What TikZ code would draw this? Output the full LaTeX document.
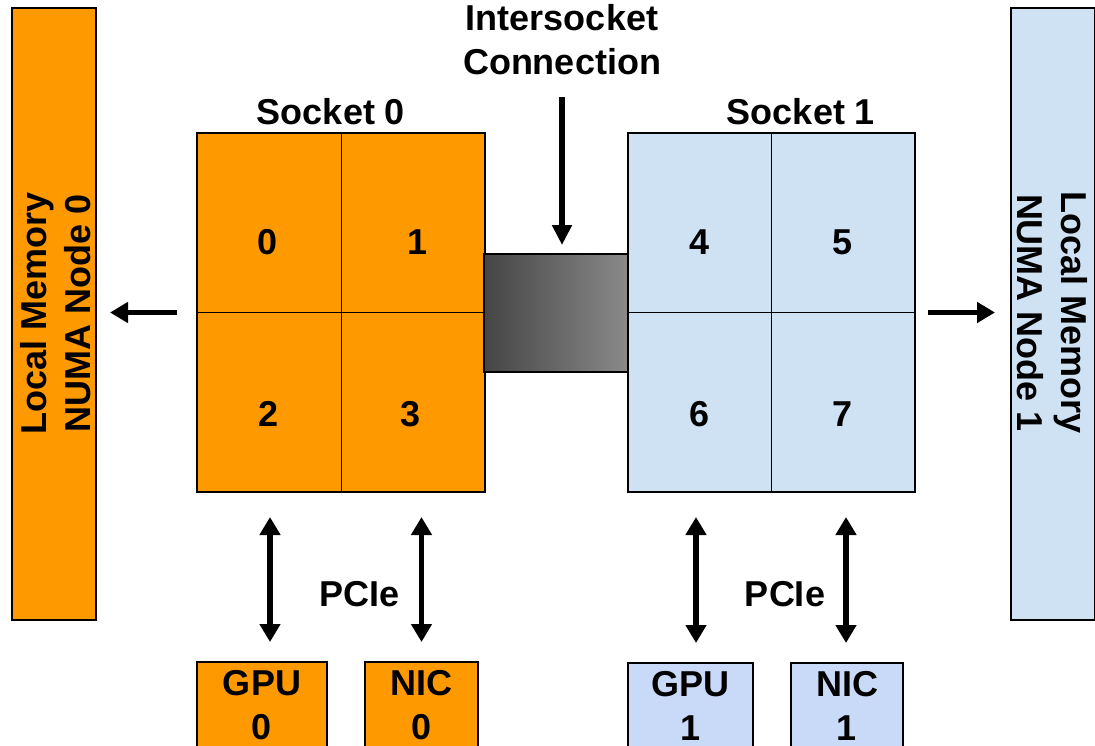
\documentclass[tikz,border=0pt]{standalone}
\usepackage{fontspec}
\setmainfont{Liberation Sans}
\usetikzlibrary{arrows.meta}
\definecolor{numaorange}{HTML}{FF9900}
\definecolor{socketblue}{HTML}{CFE2F3}
\definecolor{devblue}{HTML}{C9DAF8}
\tikzset{
  box/.style={draw=black, line width=1.3pt, inner sep=0pt, outer sep=0pt},
  divider/.style={draw=black, line width=1pt},
  txt/.style={inner sep=0pt, outer sep=0pt, align=center},
  onearrow/.style={line width=5.5pt, -{Triangle[width=20pt,length=18pt]}},
  twoarrow/.style={line width=5.5pt, {Triangle[width=20pt,length=18pt]}-{Triangle[width=20pt,length=18pt]}},
  downarrow/.style={line width=5.5pt, -{Triangle[width=19pt,length=20pt]}},
}
\begin{document}
\begin{tikzpicture}[x=1pt, y=-1pt, font=\fontsize{36}{44}\selectfont\bfseries]
\clip (0,0) rectangle (1095,745);
\fill[white] (0,0) rectangle (1095,745);

% local memories
\node[box, fill=numaorange, minimum width=84pt, minimum height=612pt] (mem0) at (54,314) {};
\node[box, fill=socketblue, minimum width=84pt, minimum height=612pt] (mem1) at (1053,314) {};
\node[txt, rotate=90] (mem0text) at (56,313) {Local Memory\\NUMA Node 0};
\node[txt, rotate=-90] (mem1text) at (1052,313) {Local Memory\\NUMA Node 1};

% sockets
\node[box, fill=numaorange, minimum width=288pt, minimum height=359pt] (s0) at (341,312.5) {};
\node[box, fill=socketblue, minimum width=287pt, minimum height=359pt] (s1) at (771.5,312.5) {};
\draw[divider] (s0.north) -- (s0.south) (s0.west) -- (s0.east);
\draw[divider] (s1.north) -- (s1.south) (s1.west) -- (s1.east);

% intersocket link
\node[box, left color=black!73, right color=black!46, minimum width=144pt, minimum height=118pt] (link) at (556,313) {};

\node[txt] (s0label) at (331,112) {Socket 0};
\node[txt] (s1label) at (801,112) {Socket 1};
\node[txt] (ilabel) at (562,40) {Intersocket\\Connection};

% cores
\node[txt] (c0) at (268,242) {0};
\node[txt] (c1) at (418,242) {1};
\node[txt] (c2) at (269,414) {2};
\node[txt] (c3) at (411,414) {3};
\node[txt] (c4) at (700,242) {4};
\node[txt] (c5) at (843,242) {5};
\node[txt] (c6) at (700,414) {6};
\node[txt] (c7) at (843,414) {7};

% devices
\node[box, fill=numaorange, minimum width=130pt, minimum height=110pt, anchor=north] (g0) at (262,662) {};
\node[box, fill=numaorange, minimum width=113pt, minimum height=110pt, anchor=north] (n0) at (421.5,662) {};
\node[box, fill=devblue, minimum width=125pt, minimum height=110pt, anchor=north] (g1) at (690.5,663) {};
\node[box, fill=devblue, minimum width=112pt, minimum height=110pt, anchor=north] (n1) at (847,663) {};
\node[txt, anchor=north] (g0text) at ([yshift=-8pt]g0.north) {GPU\\0};
\node[txt, anchor=north] (n0text) at ([yshift=-8pt]n0.north) {NIC\\0};
\node[txt, anchor=north] (g1text) at ([yshift=-8pt]g1.north) {GPU\\1};
\node[txt, anchor=north] (n1text) at ([yshift=-8pt]n1.north) {NIC\\1};

\node[txt] (pcie0) at (360,594) {PCIe};
\node[txt] (pcie1) at (785,594) {PCIe};

% connectors
\draw[onearrow, shorten <=20pt, shorten >=14pt] (s0.west) -- (s0.west -| mem0.east);
\draw[onearrow, shorten <=13pt, shorten >=16pt] (s1.east) -- (s1.east -| mem1.west);
\draw[downarrow, shorten <=22pt, shorten >=9pt] (ilabel.south) -- (ilabel.south |- link.north);
\draw[twoarrow, shorten <=25pt, shorten >=20pt] ([xshift=1pt]s0.south west -| c2) -- ([xshift=1pt]g0.north -| c2);
\draw[twoarrow, shorten <=25pt, shorten >=20pt] (s0.south -| n0.north) -- (n0.north);
\draw[twoarrow, shorten <=25pt, shorten >=20pt] ([xshift=-4pt]s1.south -| c6) -- ([xshift=-4pt]g1.north -| c6);
\draw[twoarrow, shorten <=25pt, shorten >=20pt] ([xshift=-1pt]s1.south -| n1.north) -- ([xshift=-1pt]n1.north);
\end{tikzpicture}
\end{document}
